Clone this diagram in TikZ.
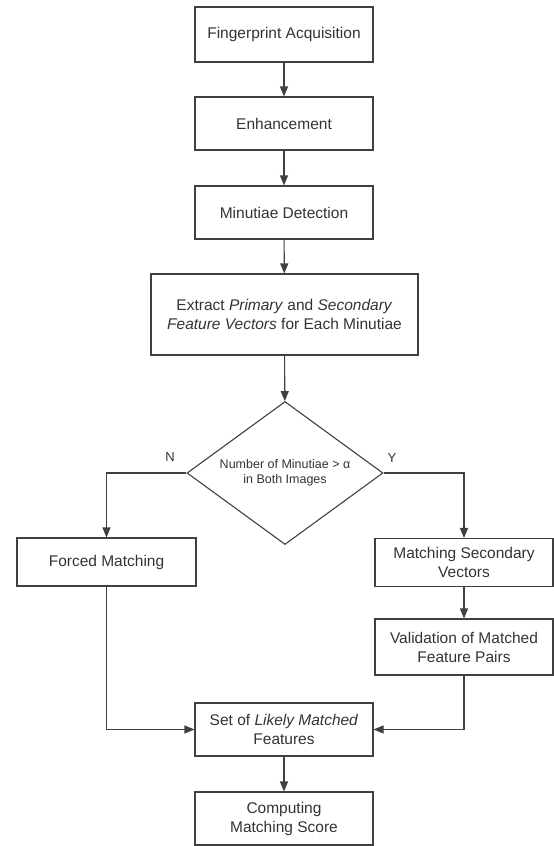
\documentclass[tikz,border=0pt]{standalone}
\usepackage{fontspec}
\setmainfont{Liberation Sans}
\usetikzlibrary{shapes.geometric,arrows.meta}

\newcommand*{\procw}{178pt}
\newcommand*{\proch}{53pt}

\begin{document}
\begin{tikzpicture}
[
	x=1pt,y=-1pt,
	proc/.style={rectangle,draw=black!75,line width=1.1pt,text=black!80,minimum width=\procw,minimum height=\proch,inner sep=2pt,align=center,font=\fontsize{15.5}{19}\selectfont},
	test/.style={diamond,aspect=1.37,draw=black!75,line width=1.1pt,text=black!80,minimum width=196pt,minimum height=143pt,inner sep=0pt,align=center,font=\fontsize{12.5}{15}\selectfont},
	lbl/.style={text=black!80,font=\fontsize{13}{15}\selectfont},
	>={Triangle[length=10pt,width=8pt]},
	line width=1.1pt,black!75
]

	\useasboundingbox (0,0) rectangle (554,846);

	% main column
	\node[proc,minimum height=55pt] at (284,34.5) (acq) {Fingerprint Acquisition};
	\node[proc] at (284,123.5) (enh) {Enhancement};
	\node[proc] at (284,212.5) (det) {Minutiae Detection};
	\node[proc,minimum width=267pt,minimum height=81pt] at (284.5,314.5) (ext) {Extract \textit{Primary} and \textit{Secondary}\\\textit{Feature Vectors} for Each Minutiae};
	\node[test] at (285,473) (dec) {Number of Minutiae > α\\in Both Images};

	% branches
	\node[proc,minimum width=179pt,minimum height=48pt] at (106.5,562) (forced) {Forced Matching};
	\node[proc,minimum height=48pt] at (464,562.5) (msv) {Matching Secondary\\Vectors};
	\node[proc,minimum height=56pt] at (464,647) (val) {Validation of Matched\\Feature Pairs};

	\node[proc] at (284,729.5) (likely) {Set of \textit{Likely Matched}\\Features};
	\node[proc] at (284,818.5) (comp) {Computing\\Matching Score};

	\node[lbl] at (170,457) (nlbl) {N};
	\node[lbl] at (392,458) (ylbl) {Y};

	% connectors
	\draw[->] (acq) -- (enh);
	\draw[->] (enh) -- (det);
	\draw[->] (det) -- (ext);
	\draw[->] (ext) -- (dec);
	\draw[->] (dec.west) -| (forced.north);
	\draw[->] (dec.east) -| (msv.north);
	\draw[->] (msv) -- (val);
	\draw[->] (forced.south) |- (likely.west);
	\draw[->] (val.south) |- (likely.east);
	\draw[->] (likely) -- (comp);

\end{tikzpicture}
\end{document}
